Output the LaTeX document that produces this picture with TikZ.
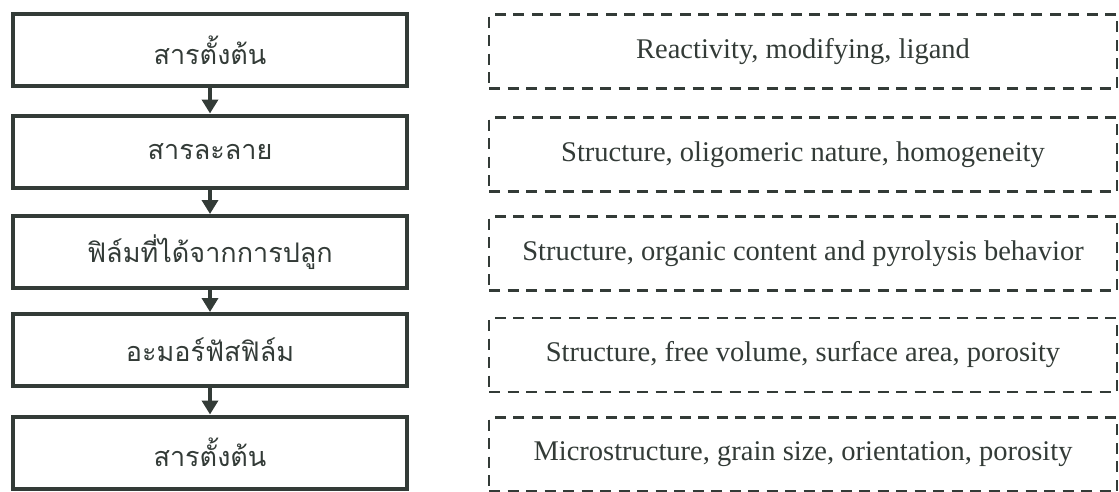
\documentclass[tikz,border=0pt]{standalone}
\usepackage{fontspec}
\setmainfont{Liberation Serif}
\newfontfamily\thaifont[Script=Thai]{Loma}
\usetikzlibrary{arrows.meta}
\definecolor{ink}{HTML}{333B37}

\begin{document}
\begin{tikzpicture}[x=1pt,y=-1pt,
  stagebox/.style={draw=ink, line width=4pt, minimum width=394pt, minimum height=72pt,
    inner sep=0pt, text=ink, font=\thaifont\fontsize{27}{31}\selectfont},
  propbox/.style={draw=ink, line width=2.5pt, dash pattern=on 11pt off 7.5pt,
    minimum width=628pt, minimum height=74pt, inner sep=0pt, text=ink,
    font=\fontsize{28.5}{33}\selectfont},
  flow/.style={draw=ink, line width=4pt, -{Triangle[width=16pt,length=14pt]}}]

  % canvas
  \useasboundingbox (0,0) rectangle (1119,491);

  % process stages (left column)
  \node[stagebox] (s1) at (210,50)    {สารตั้งต้น};
  \node[stagebox] (s2) at (210,151.5) {สารละลาย};
  \node[stagebox] (s3) at (210,252)   {ฟิล์มที่ได้จากการปลูก};
  \node[stagebox] (s4) at (210,350)   {อะมอร์ฟัสฟิล์ม};
  \node[stagebox] (s5) at (210,452.5) {สารตั้งต้น};

  % flow between stages
  \draw[flow] (s1.south) -- (s2.north);
  \draw[flow] (s2.south) -- (s3.north);
  \draw[flow] (s3.south) -- (s4.north);
  \draw[flow] (s4.south) -- (s5.north);

  % properties of each stage (right column)
  \node[propbox] (p1) at (803,51.5) {Reactivity, modifying, ligand};
  \node[propbox] (p2) at (803,154.5) {Structure, oligomeric nature, homogeneity};
  \node[propbox] (p3) at (803,253.5) {Structure, organic content and pyrolysis behavior};
  \node[propbox] (p4) at (803,355) {Structure, free volume, surface area, porosity};
  \node[propbox] (p5) at (803,454.5) {Microstructure, grain size, orientation, porosity};
\end{tikzpicture}
\end{document}
